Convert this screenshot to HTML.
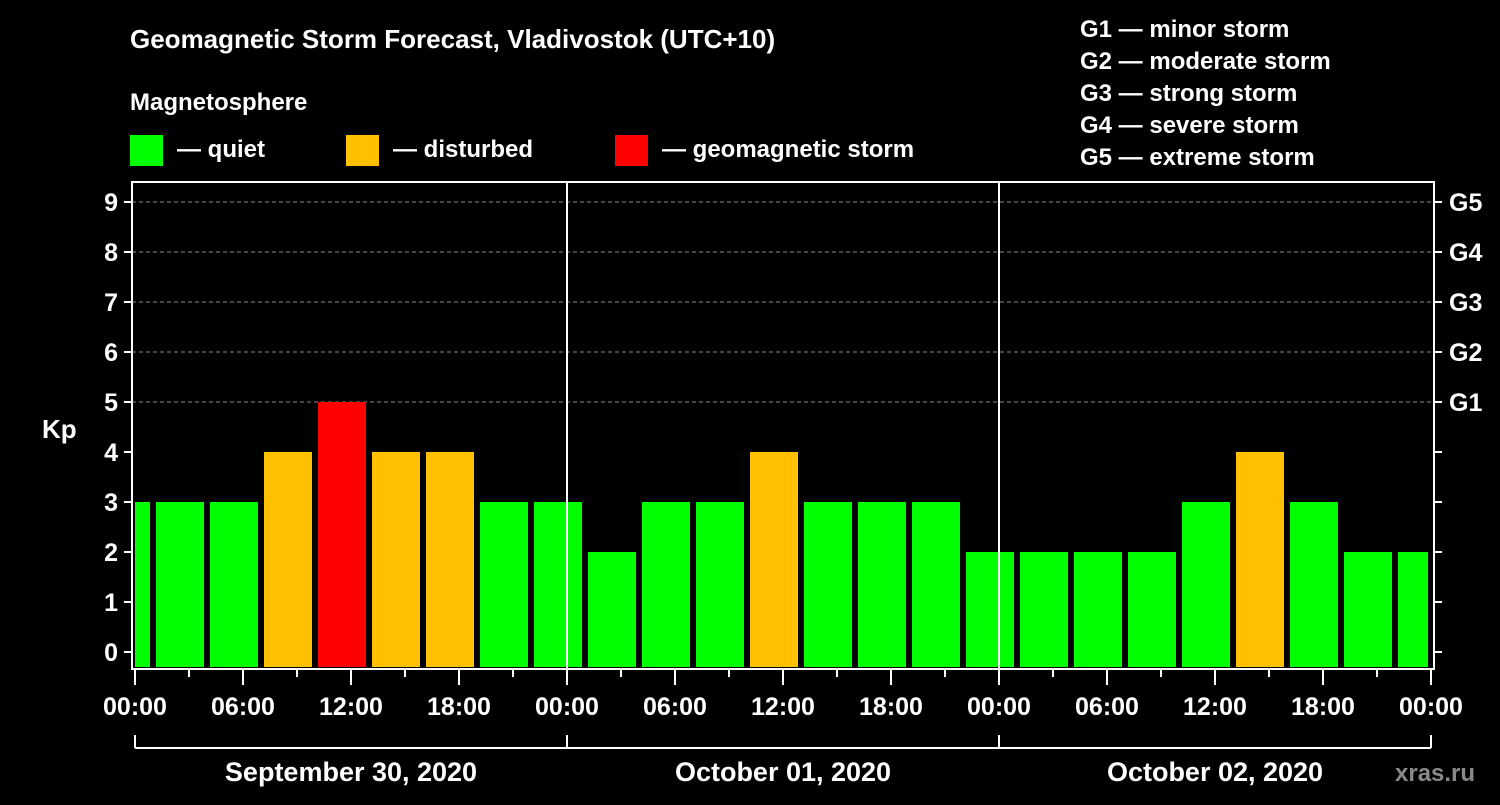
<!DOCTYPE html>
<html><head><meta charset="utf-8"><style>
body{margin:0;background:#000;width:1500px;height:800px;overflow:hidden}
svg text{font-family:"Liberation Sans",sans-serif;font-weight:bold;fill:#fff}
</style></head><body>
<svg id="chart" width="1500" height="800" viewBox="0 0 1500 800">
<rect width="1500" height="800" fill="#000"/>
<text x="130" y="48" font-size="26">Geomagnetic Storm Forecast, Vladivostok (UTC+10)</text>
<text x="130" y="110" font-size="24">Magnetosphere</text>
<g>
<rect x="130" y="135" width="33" height="31" fill="#00ff00"/>
<text x="177" y="157" font-size="24">— quiet</text>
<rect x="346" y="135" width="33" height="31" fill="#ffc000"/>
<text x="393" y="157" font-size="24">— disturbed</text>
<rect x="615" y="135" width="33" height="31" fill="#ff0000"/>
<text x="662" y="157" font-size="24">— geomagnetic storm</text>
</g>
<g font-size="24">
<text x="1080" y="37">G1 — minor storm</text>
<text x="1080" y="69">G2 — moderate storm</text>
<text x="1080" y="101">G3 — strong storm</text>
<text x="1080" y="133">G4 — severe storm</text>
<text x="1080" y="165">G5 — extreme storm</text>
</g>
<text x="42" y="438" font-size="26">Kp</text>
<text x="1395" y="781" font-size="24" fill="#888" style="fill:#8a8a8a">xras.ru</text>
<g id="plot"></g>
</svg>
<script>
const kpValues=[3,3,3,4,5,4,4,3,3,2,3,3,4,3,3,3,2,2,2,2,3,4,3,2,2];
const slotStartHour=-2;
const slotHours=3;
const yTicks=[0,1,2,3,4,5,6,7,8,9];
const gLabels=["G1","G2","G3","G4","G5"];
const gLevels=[5,6,7,8,9];
const xTickLabels=["00:00","06:00","12:00","18:00","00:00","06:00","12:00","18:00","00:00","06:00","12:00","18:00","00:00"];
const dayLabels=["September 30, 2020","October 01, 2020","October 02, 2020"];
const totalHours=72;

const X0=135,X1=1431,PL=132,PR=1434,PT=182,PB=669;
const xs=h=>X0+(h/totalHours)*(X1-X0);
const ys=v=>652-v*50;
const NS="http://www.w3.org/2000/svg";
const g=document.getElementById('plot');
function mk(tag,attrs){const e=document.createElementNS(NS,tag);for(const k in attrs)e.setAttribute(k,attrs[k]);g.appendChild(e);return e;}
// grid
gLevels.forEach(v=>{const l=mk('line',{x1:PL,x2:PR,y1:ys(v),y2:ys(v),stroke:'#888','stroke-dasharray':'4,3','stroke-width':1});

});
// bars
kpValues.forEach((v,i)=>{
 let h0=slotStartHour+i*slotHours,h1=h0+slotHours;
 let a=xs(h0)+3,b=xs(h1)-3;a=Math.max(a,X0);b=Math.min(b,X1-3);
 const c=v>=5?'#ff0000':(v>=4?'#ffc000':'#00ff00');
 const r=mk('rect',{x:a,y:ys(v),width:b-a,height:667-ys(v),fill:c});
 
 
});
// frame
const f=mk('rect',{x:PL,y:PT,width:PR-PL,height:PB-PT,fill:'none',stroke:'#fff','stroke-width':2});


[1,2].forEach(d=>{const l=mk('line',{x1:xs(d*24),x2:xs(d*24),y1:PT,y2:PB,stroke:'#fff','stroke-width':2});

});
// y ticks
yTicks.forEach(v=>{
 mk('line',{x1:PL-8,x2:PL,y1:ys(v),y2:ys(v),stroke:'#fff','stroke-width':2});
 mk('line',{x1:PR,x2:PR+8,y1:ys(v),y2:ys(v),stroke:'#fff','stroke-width':2});
 const t=mk('text',{x:PL-14,y:ys(v)+9,'font-size':25,'text-anchor':'end'});t.textContent=v;
 
 
});
gLabels.forEach((s,i)=>{const t=mk('text',{x:1449,y:ys(gLevels[i])+9,'font-size':25});t.textContent=s;
 
 });
// x ticks
for(let h=0;h<=totalHours;h+=3){const major=h%6===0;
 mk('line',{x1:xs(h),x2:xs(h),y1:PB,y2:PB+(major?16:8),stroke:'#fff','stroke-width':2});}
xTickLabels.forEach((s,i)=>{const t=mk('text',{x:xs(i*6),y:715,'font-size':25,'text-anchor':'middle'});t.textContent=s;
 
 });
// bracket
mk('line',{x1:X0,x2:X1,y1:748,y2:748,stroke:'#fff','stroke-width':2});
for(let d=0;d<=3;d++)mk('line',{x1:xs(d*24),x2:xs(d*24),y1:735,y2:748,stroke:'#fff','stroke-width':2});
dayLabels.forEach((s,i)=>{const t=mk('text',{x:xs(i*24+12),y:781,'font-size':27,'text-anchor':'middle'});t.textContent=s;
 
 });
</script>
</body></html>
